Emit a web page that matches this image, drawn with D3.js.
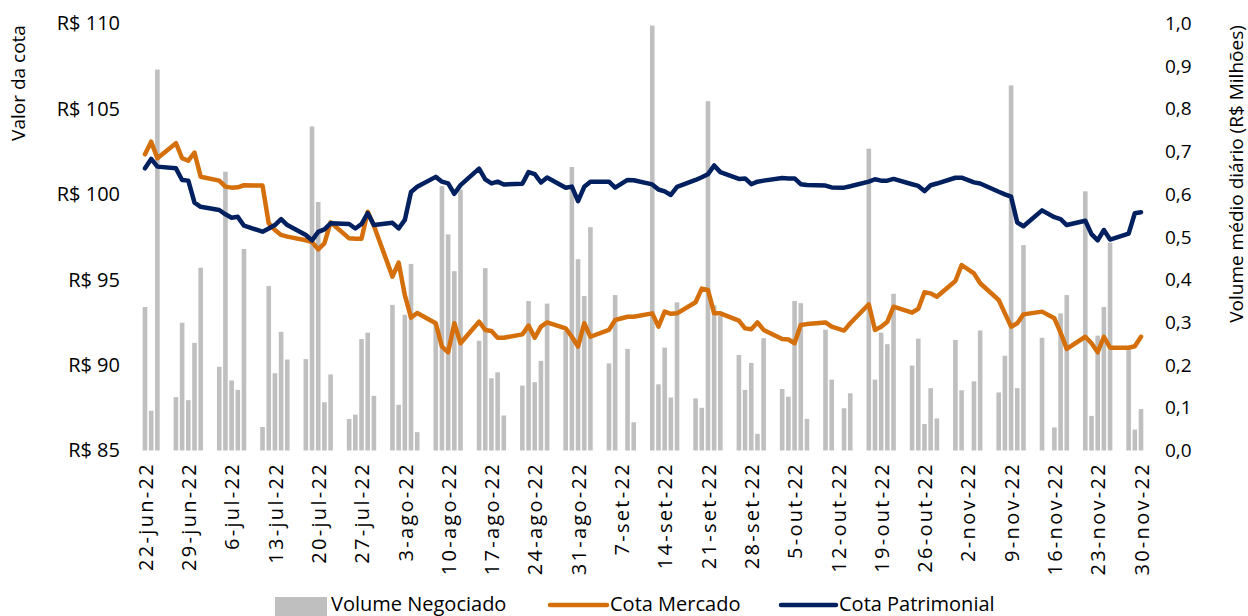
<!DOCTYPE html>
<html>
<head>
<meta charset="utf-8">
<script src="https://cdn.jsdelivr.net/npm/d3@7"></script>
<style>
  html, body { margin: 0; padding: 0; background: #ffffff; }
  svg { display: block; }
  text { font-family: "Open Sans", "Noto Sans", sans-serif; fill: #000; }
</style>
</head>
<body>
<svg id="chart" width="1248" height="616"></svg>
<script>
// ---------------- DATA ----------------
const dates = [
  "2022-06-22","2022-06-23","2022-06-24","2022-06-27","2022-06-28","2022-06-29","2022-06-30",
  "2022-07-01","2022-07-04","2022-07-05","2022-07-06","2022-07-07","2022-07-08","2022-07-11","2022-07-12","2022-07-13","2022-07-14","2022-07-15","2022-07-18","2022-07-19","2022-07-20","2022-07-21","2022-07-22","2022-07-25","2022-07-26","2022-07-27","2022-07-28","2022-07-29",
  "2022-08-01","2022-08-02","2022-08-03","2022-08-04","2022-08-05","2022-08-08","2022-08-09","2022-08-10","2022-08-11","2022-08-12","2022-08-15","2022-08-16","2022-08-17","2022-08-18","2022-08-19","2022-08-22","2022-08-23","2022-08-24","2022-08-25","2022-08-26","2022-08-29","2022-08-30","2022-08-31",
  "2022-09-01","2022-09-02","2022-09-05","2022-09-06","2022-09-08","2022-09-09","2022-09-12","2022-09-13","2022-09-14","2022-09-15","2022-09-16","2022-09-19","2022-09-20","2022-09-21","2022-09-22","2022-09-23","2022-09-26","2022-09-27","2022-09-28","2022-09-29","2022-09-30",
  "2022-10-03","2022-10-04","2022-10-05","2022-10-06","2022-10-07","2022-10-10","2022-10-11","2022-10-13","2022-10-14","2022-10-17","2022-10-18","2022-10-19","2022-10-20","2022-10-21","2022-10-24","2022-10-25","2022-10-26","2022-10-27","2022-10-28","2022-10-31",
  "2022-11-01","2022-11-03","2022-11-04","2022-11-07","2022-11-08","2022-11-09","2022-11-10","2022-11-11","2022-11-14","2022-11-16","2022-11-17","2022-11-18","2022-11-21","2022-11-22","2022-11-23","2022-11-24","2022-11-25","2022-11-28","2022-11-29","2022-11-30"
];

// Volume Negociado (R$ milhões)
const volume = [
  0.336,0.093,0.892,0.125,0.299,0.118,0.252,
  0.428,0.196,0.653,0.164,0.142,0.472,0.055,0.385,0.181,0.278,0.213,0.214,0.759,0.582,0.113,0.178,0.074,0.084,0.261,0.276,0.128,
  0.341,0.107,0.318,0.437,0.043,0.295,0.619,0.506,0.420,0.611,0.257,0.427,0.169,0.183,0.082,0.152,0.350,0.160,0.210,0.344,0.280,0.664,0.448,
  0.362,0.523,0.204,0.364,0.238,0.066,0.995,0.155,0.241,0.124,0.347,0.122,0.100,0.818,0.340,0.315,0.224,0.142,0.205,0.039,0.263,
  0.144,0.126,0.350,0.345,0.074,0.283,0.166,0.099,0.134,0.707,0.166,0.276,0.249,0.367,0.199,0.262,0.062,0.146,0.075,0.259,
  0.141,0.162,0.281,0.136,0.222,0.855,0.146,0.481,0.264,0.054,0.321,0.364,0.607,0.081,0.269,0.336,0.487,0.240,0.049,0.097
];

// Cota Mercado (R$)
const cotaMercado = [
  102.34,103.08,102.11,102.99,102.11,101.97,102.44,
  101.03,100.80,100.45,100.39,100.41,100.53,100.51,98.30,97.91,97.62,97.52,97.31,97.20,96.78,97.13,98.36,97.42,97.40,97.40,98.98,98.16,
  95.18,96.00,94.10,92.78,93.05,92.45,91.08,90.75,92.45,91.28,92.54,92.06,92.00,91.60,91.60,91.80,92.31,91.60,92.25,92.50,92.15,91.66,91.08,
  92.45,91.66,92.06,92.64,92.83,92.83,93.03,92.25,93.13,93.00,93.03,93.68,94.48,94.40,93.03,93.03,92.60,92.15,92.10,92.50,92.06,
  91.53,91.50,91.28,92.35,92.40,92.50,92.25,92.02,92.45,93.56,92.06,92.25,92.54,93.42,93.07,93.30,94.26,94.20,94.00,94.92,
  95.86,95.37,94.79,93.81,93.03,92.25,92.45,92.97,93.13,92.74,91.90,90.95,91.66,91.28,90.75,91.66,91.02,91.02,91.10,91.66
];

// Cota Patrimonial (R$)
const cotaPatrimonial = [
  101.52,102.07,101.62,101.52,100.84,100.80,99.51,
  99.27,99.08,98.83,98.63,98.68,98.16,97.81,98.00,98.20,98.55,98.20,97.62,97.30,97.80,97.95,98.30,98.26,98.00,98.26,98.90,98.20,
  98.33,98.00,98.50,100.14,100.44,101.02,100.74,100.64,100.03,100.54,101.50,100.87,100.64,100.74,100.57,100.62,101.30,101.18,100.69,100.98,100.38,100.45,99.60,
  100.44,100.74,100.74,100.39,100.84,100.82,100.58,100.28,100.17,99.96,100.43,100.84,101.00,101.18,101.69,101.30,100.90,100.93,100.59,100.74,100.80,
  100.96,100.93,100.93,100.59,100.55,100.51,100.40,100.39,100.47,100.74,100.88,100.80,100.80,100.90,100.59,100.49,100.19,100.53,100.63,100.97,
  100.97,100.70,100.63,100.15,100.00,99.86,98.35,98.13,99.06,98.66,98.55,98.20,98.45,97.67,97.30,97.91,97.35,97.70,98.89,98.95
];

const tickDates = [
  "2022-06-22","2022-06-29","2022-07-06","2022-07-13","2022-07-20","2022-07-27","2022-08-03","2022-08-10",
  "2022-08-17","2022-08-24","2022-08-31","2022-09-07","2022-09-14","2022-09-21","2022-09-28","2022-10-05",
  "2022-10-12","2022-10-19","2022-10-26","2022-11-02","2022-11-09","2022-11-16","2022-11-23","2022-11-30"
];
const tickLabels = [
  "22-jun-22","29-jun-22","6-jul-22","13-jul-22","20-jul-22","27-jul-22","3-ago-22","10-ago-22",
  "17-ago-22","24-ago-22","31-ago-22","7-set-22","14-set-22","21-set-22","28-set-22","5-out-22",
  "12-out-22","19-out-22","26-out-22","2-nov-22","9-nov-22","16-nov-22","23-nov-22","30-nov-22"
];
const leftTicks = [85, 90, 95, 100, 105, 110];
const rightTicks = [0, 0.1, 0.2, 0.3, 0.4, 0.5, 0.6, 0.7, 0.8, 0.9, 1.0];
const seriesNames = ["Volume Negociado", "Cota Mercado", "Cota Patrimonial"];

// ---------------- CHART ----------------
const parse = d3.utcParse("%Y-%m-%d");
const data = dates.map((d, i) => ({
  date: parse(d), vol: volume[i], mkt: cotaMercado[i], pat: cotaPatrimonial[i]
}));

const colors = { vol: "#BFBFBF", mkt: "#D46F0B", pat: "#002060" };
const svg = d3.select("#chart");

const x = d3.scaleUtc()
  .domain([parse("2022-06-22"), parse("2022-11-30")])
  .range([145, 1141]);
const yL = d3.scaleLinear().domain([85, 110]).range([450.5, 23.5]);
const yR = d3.scaleLinear().domain([0, 1]).range([450.5, 23.5]);

const barW = 4.6;

// Bars
svg.append("g").selectAll("rect").data(data).join("rect")
  .attr("x", d => x(d.date) - barW / 2)
  .attr("y", d => yR(d.vol))
  .attr("width", barW)
  .attr("height", d => yR(0) - yR(d.vol))
  .attr("fill", colors.vol);

// Lines
const lineMkt = d3.line().x(d => x(d.date)).y(d => yL(d.mkt));
const linePat = d3.line().x(d => x(d.date)).y(d => yL(d.pat));

svg.append("path").datum(data)
  .attr("d", lineMkt).attr("fill", "none")
  .attr("stroke", colors.mkt).attr("stroke-width", 4.5)
  .attr("stroke-linejoin", "round").attr("stroke-linecap", "round");

svg.append("path").datum(data)
  .attr("d", linePat).attr("fill", "none")
  .attr("stroke", colors.pat).attr("stroke-width", 4.5)
  .attr("stroke-linejoin", "round").attr("stroke-linecap", "round");

// Left axis
const gL = svg.append("g").attr("transform", "translate(120,0)")
  .call(d3.axisLeft(yL).tickValues(leftTicks).tickSize(0).tickPadding(0)
    .tickFormat(d => "R$ " + d));
gL.select(".domain").remove();
gL.selectAll("text").style("font-size", "20px").style("font-family", "'Open Sans', sans-serif");

// Right axis
const gR = svg.append("g").attr("transform", "translate(1165,0)")
  .call(d3.axisRight(yR).tickValues(rightTicks).tickSize(0).tickPadding(0)
    .tickFormat(d => d3.format(".1f")(d).replace(".", ",")));
gR.select(".domain").remove();
gR.selectAll("text").style("font-size", "19px").style("font-family", "'Open Sans', sans-serif");

// Bottom axis
const tickDateObjs = tickDates.map(parse);
const gB = svg.append("g").attr("transform", "translate(0,450)")
  .call(d3.axisBottom(x).tickValues(tickDateObjs).tickSize(0)
    .tickFormat((d, i) => tickLabels[i]));
gB.select(".domain").remove();
gB.selectAll("text")
  .attr("transform", "rotate(-90)")
  .attr("text-anchor", "end")
  .attr("x", -12)
  .attr("y", 0)
  .attr("dy", "0.36em")
  .style("font-size", "20px")
  .style("letter-spacing", "2.3px")
  .style("font-family", "'Open Sans', sans-serif");

// Axis titles
svg.append("text")
  .attr("transform", "translate(25,83) rotate(-90)")
  .attr("text-anchor", "middle")
  .style("font-size", "19px")
  .text("Valor da cota");

svg.append("text")
  .attr("transform", "translate(1243,174) rotate(-90)")
  .attr("text-anchor", "middle")
  .style("font-size", "19px")
  .text("Volume médio diário (R$ Milhões)");

// Legend
const lg = svg.append("g");
lg.append("rect").attr("x", 275).attr("y", 597).attr("width", 52).attr("height", 19).attr("fill", colors.vol);
lg.append("text").attr("x", 331).attr("y", 611).style("font-size", "20px").text(seriesNames[0]);
lg.append("line").attr("x1", 550).attr("x2", 607).attr("y1", 605).attr("y2", 605)
  .attr("stroke", colors.mkt).attr("stroke-width", 4.5).attr("stroke-linecap", "round");
lg.append("text").attr("x", 610).attr("y", 611).style("font-size", "20px").text(seriesNames[1]);
lg.append("line").attr("x1", 781).attr("x2", 836).attr("y1", 605).attr("y2", 605)
  .attr("stroke", colors.pat).attr("stroke-width", 4.5).attr("stroke-linecap", "round");
lg.append("text").attr("x", 839).attr("y", 611).style("font-size", "20px").text(seriesNames[2]);
</script>
</body>
</html>
